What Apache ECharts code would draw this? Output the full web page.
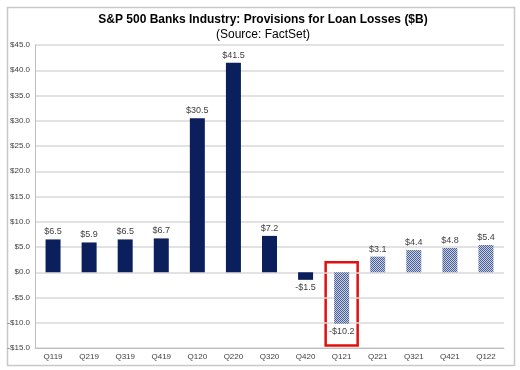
<!DOCTYPE html>
<html><head><meta charset="utf-8">
<script src="https://cdn.jsdelivr.net/npm/echarts@6/dist/echarts.min.js"></script>
<style>html,body{margin:0;padding:0;background:#fff}#c{width:520px;height:370px}</style>
</head><body><div id="c"></div>
<script>
const categories = ['Q119','Q219','Q319','Q419','Q120','Q220','Q320','Q420','Q121','Q221','Q321','Q421','Q122'];
const values = [6.5, 5.9, 6.5, 6.7, 30.5, 41.5, 7.2, -1.5, -10.2, 3.1, 4.4, 4.8, 5.4];
const estimated = [false,false,false,false,false,false,false,false,true,true,true,true,true];
const highlightCategory = 'Q121';
const yMin = -15, yMax = 45, yStep = 5;

const pc = document.createElement('canvas');
pc.width = 2; pc.height = 2;
const pctx = pc.getContext('2d');
pctx.fillStyle = '#c8d0e2'; pctx.fillRect(0,0,2,2);
pctx.fillStyle = '#4a5f96'; pctx.fillRect(0,0,1,1); pctx.fillRect(1,1,1,1);
const hatch = {image: pc, repeat: 'repeat'};

const fmt = v => (v < 0 ? '-$' : '$') + Math.abs(v).toFixed(1);

const chart = echarts.init(document.getElementById('c'), null, {renderer:'canvas'});
const data = values.map((v,i) => ({
  value: v,
  itemStyle: {color: estimated[i] ? hatch : '#0b1f5c'},
  label: {position: v < 0 ? 'bottom' : 'top'}
}));
const border = {
  type: 'rect', left: 5, top: 5, shape: {width: 507, height: 358},
  style: {fill: 'none', stroke: '#c8c8c8', lineWidth: 1.5}, silent: true
};
chart.setOption({
  animation: false,
  textStyle: {fontFamily: 'Liberation Sans, Arial, sans-serif'},
  title: {
    text: 'S&P 500 Banks Industry: Provisions for Loan Losses ($B)',
    subtext: '(Source: FactSet)',
    left: 258, top: 9, textAlign: 'center', itemGap: 3,
    textStyle: {fontSize: 12, fontWeight: 'bold', color: '#000', fontFamily: 'Liberation Sans, Arial, sans-serif'},
    subtextStyle: {fontSize: 12, color: '#000', fontFamily: 'Liberation Sans, Arial, sans-serif'}
  },
  grid: {left: 35, right: 16, top: 45, bottom: 22},
  xAxis: {
    type: 'category', data: categories,
    position: 'bottom',
    axisLine: {onZero: false, lineStyle: {color: '#bfbfbf', width: 1}},
    axisTick: {show: false},
    axisLabel: {fontSize: 8, color: '#404040', margin: 5}
  },
  yAxis: {
    type: 'value', min: yMin, max: yMax, interval: yStep,
    axisLine: {show: true, lineStyle: {color: '#bfbfbf'}},
    axisTick: {show: false},
    splitLine: {lineStyle: {color: '#d9d9d9', width: 1.5}},
    axisLabel: {fontSize: 8, color: '#404040', margin: 5, formatter: fmt}
  },
  series: [{
    type: 'bar', data: data, barWidth: 15,
    label: {show: true, fontSize: 9, color: '#404040', distance: 3, formatter: p => fmt(p.value)}
  }],
  graphic: [border]
});

const idx = categories.indexOf(highlightCategory);
const pTop = chart.convertToPixel({seriesIndex: 0}, [idx, 2]);
const pBot = chart.convertToPixel({seriesIndex: 0}, [idx, -14.5]);
const half = 16;
chart.setOption({graphic: [border, {
  type: 'rect', shape: {x: pTop[0] - half, y: pTop[1], width: half * 2, height: pBot[1] - pTop[1]},
  style: {fill: 'none', stroke: '#e01010', lineWidth: 2.5}, silent: true
}]});
</script></body></html>
